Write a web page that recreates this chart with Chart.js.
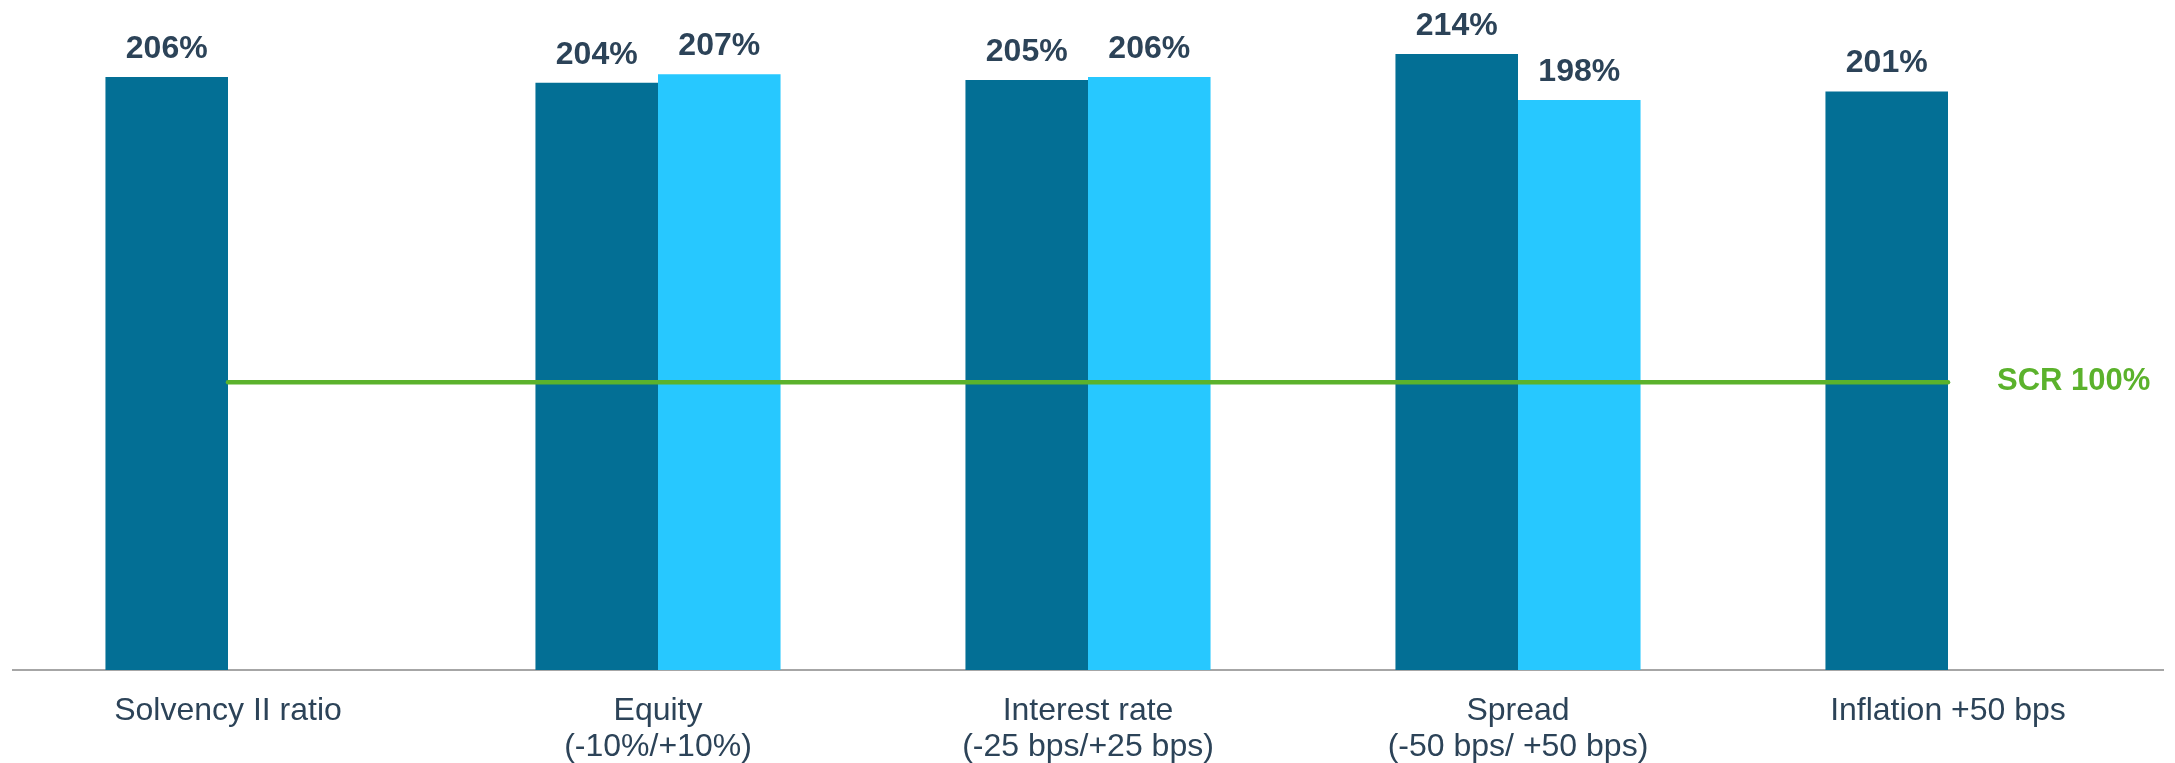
<!DOCTYPE html>
<html>
<head>
<meta charset="utf-8">
<script src="https://cdn.jsdelivr.net/npm/chart.js@4/dist/chart.umd.min.js"></script>
<style>
  html, body { margin: 0; padding: 0; background: #ffffff; }
  #wrap { width: 2175px; height: 763px; position: relative; }
</style>
</head>
<body>
<div id="wrap"><canvas id="c"></canvas></div>
<script>
const categories = [
  'Solvency II ratio',
  ['Equity', '(-10%/+10%)'],
  ['Interest rate', '(-25 bps/+25 bps)'],
  ['Spread', '(-50 bps/ +50 bps)'],
  'Inflation +50 bps'
];
const downValues = [206, 204, 205, 214, 201];
const upValues = [null, 207, 206, 198, null];
const scrLevel = 100;
const scrLabel = 'SCR 100%';

const TEXT = '#2C4358';
const DARK = '#036F95';
const LIGHT = '#27C8FF';
const GREEN = '#5BB22C';
const FONT = '"Liberation Sans", Arial, sans-serif';

const overlay = {
  id: 'overlay',
  afterDatasetsDraw(chart) {
    const ctx = chart.ctx;
    const y = chart.scales.y;
    ctx.save();
    ctx.font = 'bold 32px ' + FONT;
    ctx.fillStyle = TEXT;
    ctx.textAlign = 'center';
    ctx.textBaseline = 'alphabetic';
    chart.data.datasets.forEach((ds, di) => {
      const meta = chart.getDatasetMeta(di);
      meta.data.forEach((bar, i) => {
        const v = ds.data[i];
        if (v === null || v === undefined) return;
        ctx.fillText(v + '%', bar.x, bar.y - 19);
      });
    });
    const m0 = chart.getDatasetMeta(0).data;
    const first = m0[0], last = m0[m0.length - 1];
    const x1 = first.x + first.width / 2;
    const x2 = last.x + last.width / 2;
    const yy = y.getPixelForValue(scrLevel);
    ctx.strokeStyle = GREEN;
    ctx.lineWidth = 4.5;
    ctx.lineCap = 'round';
    ctx.beginPath();
    ctx.moveTo(x1, yy);
    ctx.lineTo(x2, yy);
    ctx.stroke();
    ctx.fillStyle = GREEN;
    ctx.textAlign = 'left';
    ctx.font = 'bold 31px ' + FONT;
    ctx.fillText(scrLabel, x2 + 49, yy + 8);
    ctx.restore();
  }
};

new Chart(document.getElementById('c'), {
  type: 'bar',
  data: {
    labels: categories,
    datasets: [
      { label: 'Down', data: downValues, backgroundColor: DARK, categoryPercentage: 0.57, barPercentage: 1.0 },
      { label: 'Up', data: upValues, backgroundColor: LIGHT, categoryPercentage: 0.57, barPercentage: 1.0 }
    ]
  },
  options: {
    responsive: true,
    maintainAspectRatio: false,
    animation: false,
    layout: { padding: { top: 8, left: 13, right: 12, bottom: 0 } },
    plugins: { legend: { display: false }, tooltip: { enabled: false } },
    scales: {
      x: {
        grid: { display: false, drawTicks: false },
        border: { display: true, color: '#A6A6A6', width: 2 },
        afterFit(scale) { scale.height = 93; },
        ticks: {
          color: TEXT,
          padding: 23,
          maxRotation: 0,
          autoSkip: false,
          font: { family: FONT, size: 32, lineHeight: 1.12 }
        }
      },
      y: {
        display: false,
        min: 0,
        max: 230
      }
    }
  },
  plugins: [overlay]
});
</script>
</body>
</html>
